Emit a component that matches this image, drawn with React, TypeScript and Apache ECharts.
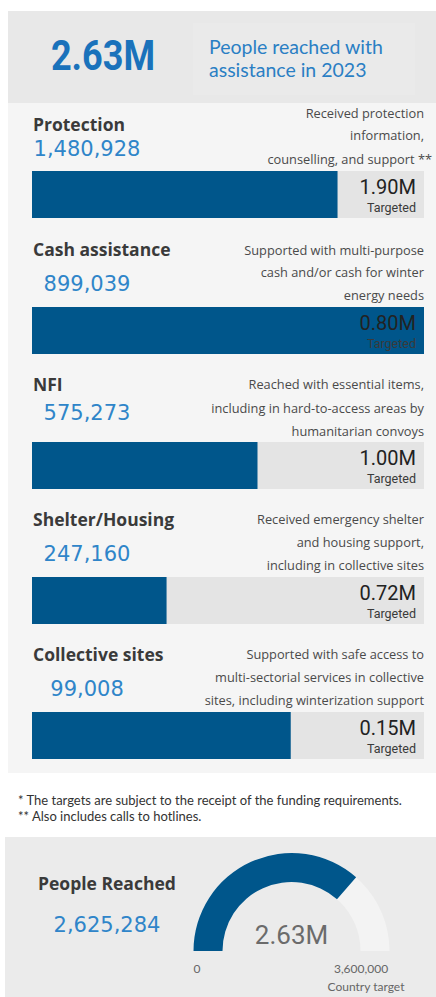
import React, { useEffect, useRef } from "react";
import * as echarts from "echarts";

const categories = ["Protection", "Cash assistance", "NFI", "Shelter/Housing", "Collective sites"];
const reached = [1480928, 899039, 575273, 247160, 99008];
const targets = [1900000, 800000, 1000000, 720000, 150000];
const descriptions = [
  ["Received protection", "information,", "counselling, and support **"],
  ["Supported with multi-purpose", "cash and/or cash for winter", "energy needs"],
  ["Reached with essential items,", "including in hard-to-access areas by", "humanitarian convoys"],
  ["Received emergency shelter", "and housing support,", "including in collective sites"],
  ["Supported with safe access to", "multi-sectorial services in collective", "sites, including winterization support"],
];
const totalReached = 2625284;
const countryTarget = 3600000;
const headline = "People reached with assistance in 2023";
const footnotes = [
  "* The targets are subject to the receipt of the funding requirements.",
  "** Also includes calls to hotlines.",
];

const layout = [
  { bar: 171, title: 124, num: 149, desc: [113, 135, 159], descRight: [424, 424, 432] },
  { bar: 307, title: 249, num: 284, desc: [250, 272, 295], descRight: [424, 424, 424] },
  { bar: 442, title: 384, num: 413, desc: [384, 408, 431], descRight: [424, 424, 424] },
  { bar: 577, title: 519, num: 554, desc: [519, 542, 565], descRight: [424, 424, 424] },
  { bar: 712, title: 654, num: 689, desc: [654, 677, 700], descRight: [424, 424, 424] },
];

const DARK = "#00568b";
const BLUE = "#2f85c9";
const fmtM = (v: number) => (v / 1e6).toFixed(2) + "M";
const fmtN = (v: number) => v.toLocaleString("en-US");

function txt(x: number, y: number, text: string, o: any = {}) {
  return {
    type: "text",
    x,
    y,
    scaleX: o.scaleX ?? 1,
    z: 10,
    silent: true,
    style: {
      text,
      fill: o.fill ?? "#333",
      fontSize: o.fontSize ?? 12,
      fontFamily: o.fontFamily ?? "Lato",
      fontWeight: o.fontWeight ?? "normal",
      align: o.align ?? "left",
      textAlign: o.align ?? "left",
      verticalAlign: "middle",
      textVerticalAlign: "middle",
    },
  };
}

export default function App() {
  const ref = useRef<HTMLDivElement>(null);
  useEffect(() => {
    if (!ref.current) return;
    const chart = echarts.init(ref.current, null, { renderer: "svg" });

    const grids: any[] = [];
    const xAxes: any[] = [];
    const yAxes: any[] = [];
    const series: any[] = [];
    const graphics: any[] = [];

    // panels
    graphics.push({ type: "rect", z: 0, silent: true, shape: { x: 8, y: 11, width: 428, height: 92 }, style: { fill: "#e8e8e8" } });
    graphics.push({ type: "rect", z: 1, silent: true, shape: { x: 193, y: 23, width: 222, height: 72 }, style: { fill: "#eaeaea" } });
    graphics.push({ type: "rect", z: 0, silent: true, shape: { x: 8, y: 103, width: 428, height: 670 }, style: { fill: "#f5f5f5" } });
    graphics.push({ type: "rect", z: 0, silent: true, shape: { x: 5, y: 837, width: 431, height: 160 }, style: { fill: "#ebebeb" } });

    // header
    graphics.push(txt(103, 56, fmtM(totalReached), { fill: "#1a72bb", fontSize: 42, fontWeight: "bold", fontFamily: "Roboto", align: "center", scaleX: 0.86 }));
    const hw = headline.split(" ");
    graphics.push(txt(209, 46, hw.slice(0, 3).join(" "), { fill: "#2a7fc4", fontSize: 19.5 }));
    graphics.push(txt(209, 69, hw.slice(3).join(" "), { fill: "#2a7fc4", fontSize: 19.5 }));

    categories.forEach((cat, i) => {
      const L = layout[i];
      grids.push({ left: 32, width: 392, top: L.bar, height: 47, containLabel: false });
      xAxes.push({ type: "value", gridIndex: i, min: 0, max: targets[i], show: false });
      yAxes.push({ type: "category", gridIndex: i, data: [cat], show: false });
      series.push({
        type: "bar",
        xAxisIndex: i,
        yAxisIndex: i,
        data: [reached[i]],
        barWidth: "100%",
        clip: true,
        showBackground: true,
        backgroundStyle: { color: "#e4e4e4" },
        itemStyle: { color: DARK },
        silent: true,
      });
      graphics.push(txt(33, L.title, cat, { fill: "#3a3a3a", fontSize: 17.5, fontWeight: "bold", fontFamily: "Open Sans" }));
      graphics.push(txt(87, L.num, fmtN(reached[i]), { fill: BLUE, fontSize: 21, fontFamily: "DejaVu Sans", align: "center" }));
      descriptions[i].forEach((line, j) => {
        graphics.push(txt(L.descRight[j], L.desc[j], line, { fill: "#4a4a4a", fontSize: 12.8, fontFamily: "Open Sans", align: "right" }));
      });
      graphics.push(txt(416, L.bar + 16, fmtM(targets[i]), { fill: "#222", fontSize: 20, fontFamily: "Roboto", align: "right" }));
      graphics.push(txt(416, L.bar + 36, "Targeted", { fill: "#3a3a3a", fontSize: 12.5, fontFamily: "Roboto", align: "right" }));
    });

    footnotes.forEach((f, j) => {
      graphics.push(txt(18, 800 + j * 16, f, { fill: "#333", fontSize: 13 }));
    });

    // gauge section
    graphics.push(txt(38, 883, "People Reached", { fill: "#3a3a3a", fontSize: 17.5, fontWeight: "bold", fontFamily: "Open Sans" }));
    graphics.push(txt(107, 925, fmtN(totalReached), { fill: BLUE, fontSize: 21, fontFamily: "DejaVu Sans", align: "center" }));
    graphics.push(txt(197, 968, "0", { fill: "#666", fontSize: 12, align: "center" }));
    graphics.push(txt(361, 968, fmtN(countryTarget), { fill: "#666", fontSize: 12, align: "center" }));
    graphics.push(txt(366, 986, "Country target", { fill: "#666", fontSize: 12, align: "center" }));

    series.push({
      type: "gauge",
      center: [291.5, 951],
      radius: 98,
      startAngle: 180,
      endAngle: 0,
      min: 0,
      max: countryTarget,
      z: 5,
      progress: { show: true, width: 29, itemStyle: { color: DARK } },
      axisLine: { lineStyle: { width: 29, color: [[1, "#f3f3f3"]] } },
      pointer: { show: false },
      axisTick: { show: false },
      splitLine: { show: false },
      axisLabel: { show: false },
      anchor: { show: false },
      title: { show: false },
      detail: {
        show: true,
        offsetCenter: [0, -16],
        formatter: (v: number) => fmtM(v),
        fontSize: 26,
        fontFamily: "Roboto",
        fontWeight: "normal",
        color: "#6b6b6b",
      },
      data: [{ value: totalReached }],
    });

    chart.setOption({
      animation: false,
      backgroundColor: "#ffffff",
      grid: grids,
      xAxis: xAxes,
      yAxis: yAxes,
      series,
      graphic: { elements: graphics },
    });
    return () => chart.dispose();
  }, []);

  return (
    <div
      ref={ref}
      style={{ position: "absolute", left: 0, top: 0, width: 436, height: 997 }}
    />
  );
}
